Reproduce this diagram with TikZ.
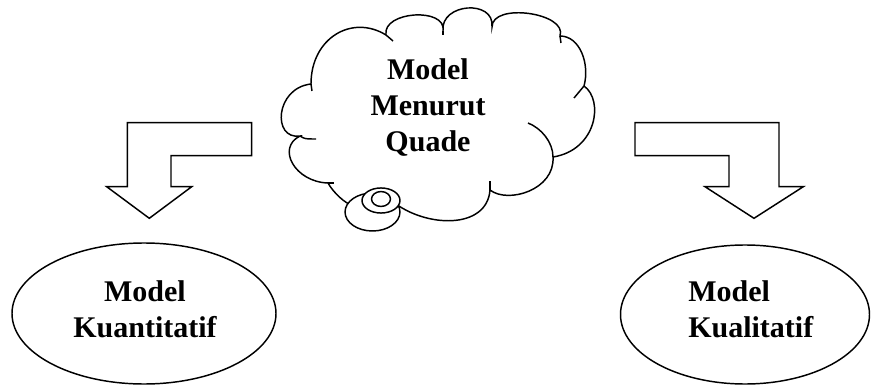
\documentclass[tikz,border=0pt]{standalone}
\usepackage{fontspec}
\setmainfont{Liberation Serif}
\usetikzlibrary{shapes.geometric}
\tikzset{
  outline/.style={draw=black, line width=1.1pt, line join=miter},
  hook/.style={draw=black, line width=1.1pt},
  lbl/.style={font=\fontsize{22.5}{27}\selectfont\bfseries, inner sep=0pt, align=center},
  oval/.style={ellipse, draw=black, line width=1.1pt, inner sep=0pt}
}
\begin{document}
\begin{tikzpicture}[x=0.75pt, y=-0.75pt]
\useasboundingbox (0,0) rectangle (872,385);

% cloud outline
\path[outline, fill=white]
  (300,136) .. controls (272,140) and (275,88) .. (311,84)
  .. controls (311,38) and (352,14) .. (386,35)
  .. controls (382,11) and (447,7) .. (443,31)
  .. controls (440,3) and (495,-1) .. (492,27)
  .. controls (492,2) and (568,13) .. (560,36)
  .. controls (580,36) and (590,64) .. (584,86)
  .. controls (604,100) and (597,150) .. (553,157)
  .. controls (555,190) and (508,204) .. (490,190)
  .. controls (487,230) and (425,228) .. (392,201)
  -- (354,206)
  .. controls (345,204) and (333,192) .. (328,183)
  .. controls (295,182) and (276,148) .. (300,136) -- cycle;

% small inner hooks of the cloud
\draw[hook] (311,84) -- (312,91);
\draw[hook] (386,35) -- (393,41);
\draw[hook] (443,31) -- (443,35);
\draw[hook] (560,36) -- (561,43);
\draw[hook] (584,86) -- (574,98);
\draw[hook] (553,157) .. controls (553,142) and (541,128) .. (528,123);
\draw[hook] (490,190) -- (490,181);
\draw[hook] (328,183) -- (334,183);
\draw[hook] (300,136) .. controls (305,139) .. (316,139);

% thought bubbles
\path[outline, fill=white] (372.5,212) ellipse [x radius=20.6pt, y radius=14.25pt];
\path[outline, fill=white] (381,200.5) ellipse [x radius=14.25pt, y radius=9.4pt];
\path[outline, fill=white] (381,199) ellipse [x radius=7.1pt, y radius=5.6pt];

\node[lbl] (quade) at (428,108) {Model\\Menurut\\Quade};

% block arrows
\path[outline] (127.3,122.7) -- (251.7,122.7) -- (251.7,155.7) -- (171,155.7)
  -- (171,186.7) -- (191.7,186.7) -- (149.3,218.3) -- (106.7,186.7)
  -- (127.3,186.7) -- cycle;
\path[outline] (635,122.7) -- (779,122.7) -- (779,186.7) -- (803.3,186.7)
  -- (754,218.3) -- (705,186.7) -- (729,186.7) -- (729,155.7)
  -- (635,155.7) -- cycle;

% ellipses
\node[oval, minimum width=198pt, minimum height=105.75pt] (kuan) at (144,313.5) {};
\node[lbl] (kuantxt) at (145,309) {Model\\Kuantitatif};
\node[oval, minimum width=186.75pt, minimum height=104.25pt] (kual) at (745,314.5) {};
\node[lbl, align=left, anchor=west] (kualtxt) at (688,309) {Model\\Kualitatif};
\end{tikzpicture}
\end{document}
